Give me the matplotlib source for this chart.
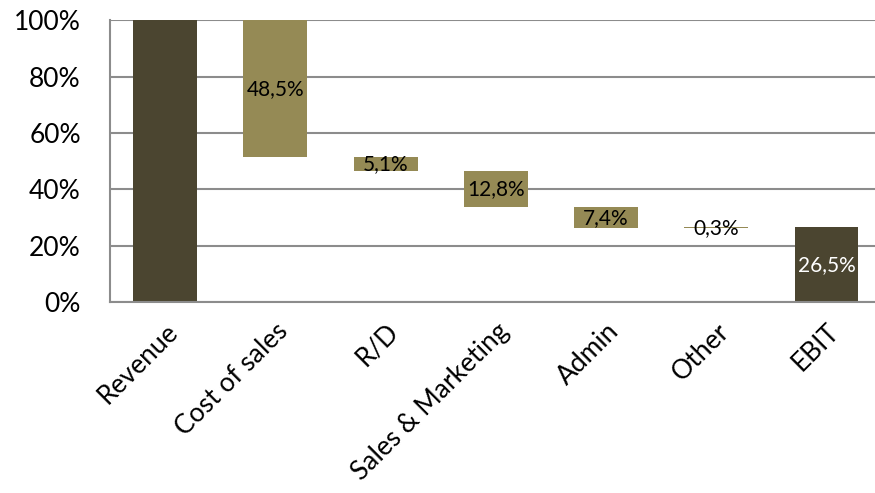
"""Waterfall of revenue down to EBIT, as share of revenue

"""

import matplotlib
matplotlib.use('Agg')
import matplotlib.pyplot as plt
from matplotlib.ticker import FuncFormatter


categories = ['Revenue', 'Cost of sales', 'R/D', 'Sales & Marketing',
              'Admin', 'Other', 'EBIT']
# revenue and EBIT are totals, the rest are steps between them
changes = [100.0, -48.5, -5.1, -12.8, -7.4, 0.3, 26.5]
is_total = [True, False, False, False, False, False, True]

DARK = '#4b4530'
LIGHT = '#958a55'
GRID = '#8c8c8c'


def waterfallBars(changes, is_total):
    """Returns bottoms and heights of the floating bars

    """
    bottoms, heights = [], []
    level = 0.0
    for v, total in zip(changes, is_total):
        if total:
            bottoms.append(0.0)
            heights.append(v)
            level = v
        elif v < 0:
            bottoms.append(level + v)
            heights.append(-v)
            level = level + v
        else:
            bottoms.append(level)
            heights.append(v)
            level = level + v
    return bottoms, heights


def main():
    plt.rcParams['font.family'] = ['Lato', 'DejaVu Sans']

    fig = plt.figure(figsize=(8.75, 4.93), dpi=100)
    ax = fig.add_axes([110 / 875, 0.387, 1 - 110 / 875, 0.572])

    bottoms, heights = waterfallBars(changes, is_total)
    x = range(len(categories))
    colors = [DARK if t else LIGHT for t in is_total]
    ax.bar(x, heights, bottom=bottoms, width=0.58, color=colors, zorder=2)

    for i, (b, h) in enumerate(zip(bottoms, heights)):
        if i == 0:
            continue
        txt = f'{abs(changes[i]):.1f}'.replace('.', ',') + '%'
        ax.text(i, b + h / 2, txt, ha='center', va='center', fontsize=15,
                color='white' if is_total[i] else 'black', zorder=3)

    ax.set_xlim(-0.5, 6.44)
    ax.set_ylim(0, 100)
    ax.set_yticks(range(0, 101, 20))
    ax.yaxis.set_major_formatter(FuncFormatter(lambda v, p: f'{v:.0f}%'))
    ax.yaxis.grid(True, color=GRID, linewidth=1.5)
    ax.set_axisbelow(True)

    ax.set_xticks(list(x))
    ax.set_xticklabels(categories, rotation=45, ha='right',
                       rotation_mode='anchor', fontsize=19)
    ax.tick_params(axis='x', length=0, pad=12)
    ax.tick_params(axis='y', length=0, pad=21, labelsize=19)

    for side in ['top', 'right']:
        ax.spines[side].set_visible(False)
    for side in ['left', 'bottom']:
        ax.spines[side].set_color(GRID)
        ax.spines[side].set_linewidth(1.5)

    fig.savefig('out.png', dpi=100)


if __name__ == '__main__':
    main()
